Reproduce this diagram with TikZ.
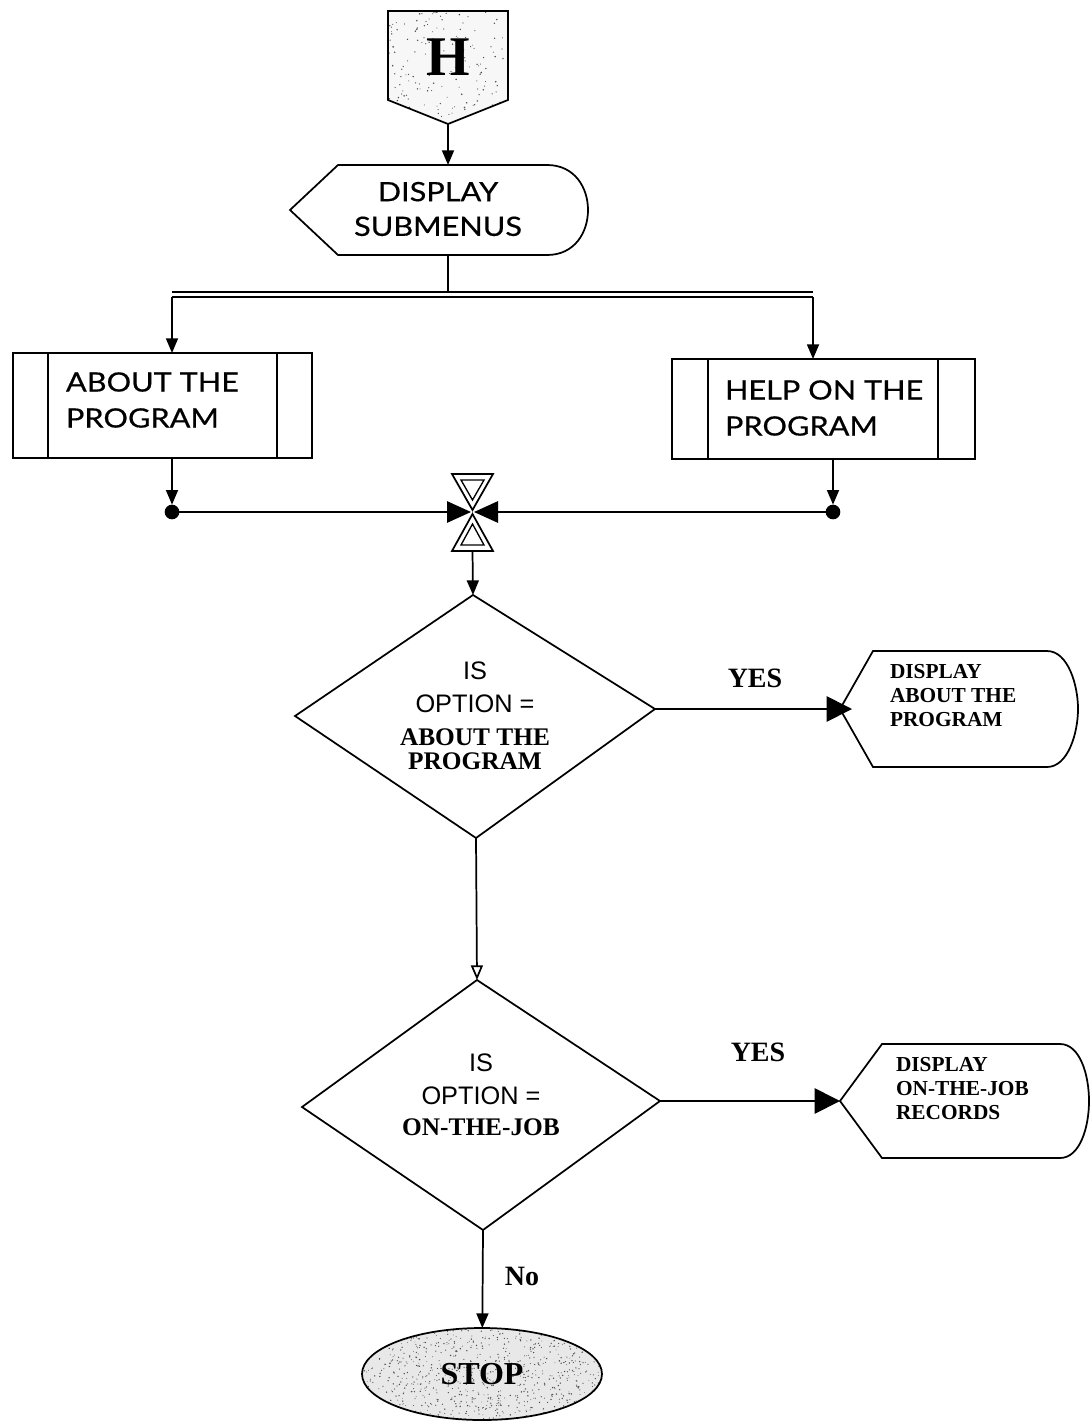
\documentclass[tikz,border=0pt]{standalone}
\usepackage{fontspec}
\setmainfont{Liberation Serif}
\newfontfamily\sansf{Liberation Sans}
\newfontfamily\menuf[FakeStretch=1.15,FakeBold=0.5]{Lato}
\usetikzlibrary{arrows.meta,shapes.geometric}

\begin{document}
\begin{tikzpicture}[x=0.75pt,y=-0.75pt,
  every node/.style={inner sep=0pt, outer sep=0pt},
  outline/.style={line width=1.3pt, line join=miter},
  conn/.style={line width=1.3pt},
  tip/.style={-{Triangle[length=11pt,width=9pt]}},
  opentip/.style={-{Triangle[open,length=11pt,width=9pt]}},
  bigtip/.style={-{Triangle[length=19pt,width=19pt]}},
  mergetip/.style={-{Triangle[length=18pt,width=16pt]}},
  menutext/.style={font=\menuf\fontsize{20}{27}\selectfont, align=left, anchor=west},
  asktext/.style={font=\fontsize{19}{24.5}\selectfont, align=center},
  showtext/.style={font=\bfseries\fontsize{16}{18}\selectfont, align=left, anchor=west},
  answer/.style={font=\bfseries\fontsize{21}{21}\selectfont},
  dot/.style={circle, fill=black, minimum size=11pt},
  grain/.style={black!70}
]
\fill[white] (0,0) rectangle (1091,1423);
\useasboundingbox (0,0) rectangle (1091,1423);

% ---------- off-page connector H ----------
\coordinate (hB) at (448,124);
\fill[gray!6] (388,11) -- (508,11) -- (508,100) -- (hB) -- (388,100) -- cycle;
\pgfmathsetseed{11}
\begin{scope}
  \clip (388,11) -- (508,11) -- (508,100) -- (hB) -- (388,100) -- cycle;
  \foreach \i in {1,...,170}
    \fill[grain] ({448+60*rand},{62+55*rand}) circle [radius={0.35pt+0.3pt*rnd}];
\end{scope}
\draw[outline] (388,11) -- (508,11) -- (508,100) -- (hB) -- (388,100) -- cycle;
\node[font=\bfseries\fontsize{42}{42}\selectfont] (H) at (448,57) {H};

% ---------- display submenus ----------
\coordinate (dsT) at (448,165);
\coordinate (dsB) at (448,255);
\draw[outline] (290,210) -- (338,165) -- (547,165)
  .. controls (575,165) and (588,188) .. (588,210)
  .. controls (588,232) and (575,255) .. (547,255) -- (338,255) -- cycle;
\node[font=\menuf\fontsize{20}{26}\selectfont, align=center] (ds) at (438,209) {DISPLAY\\SUBMENUS};
\draw[conn, tip] (hB) -- (dsT);

% ---------- split bus ----------
\coordinate (busTop) at (448,292);
\coordinate (busL) at (172,297);
\coordinate (busR) at (813,297);
\draw[conn] (dsB) -- (busTop);
\draw[line width=1pt] (172,292) -- (813,292);
\draw[line width=1pt] (busL) -- (busR);

% ---------- predefined processes ----------
\coordinate (aboutT) at (172,353);
\coordinate (aboutB) at (172,458);
\draw[outline] (13,353) rectangle (312,458);
\draw[outline] (48,353) -- (48,458);
\draw[outline] (277,353) -- (277,458);
\node[menutext] (about) at (66,400) {ABOUT THE\\PROGRAM};

\coordinate (helpT) at (813,359);
\coordinate (helpB) at (833,459);
\draw[outline] (672,359) rectangle (975,459);
\draw[outline] (708,359) -- (708,459);
\draw[outline] (938,359) -- (938,459);
\node[menutext] (help) at (725,408) {HELP ON THE\\PROGRAM};

\draw[conn, tip] (busL) -- (aboutT);
\draw[conn, tip] (busR) -- (helpT);

% ---------- join ----------
\node[dot] (dotL) at (172,512) {};
\node[dot] (dotR) at (833,512) {};
\draw[conn, tip] (aboutB) -- (dotL);
\draw[conn, tip] (helpB) -- (dotR);

\coordinate (mgL) at (471,512);
\coordinate (mgR) at (474,512);
\coordinate (mgB) at (472.5,551);
\draw[outline] (452,474) -- (493,474) -- (472.5,510) -- cycle;
\draw[line width=1pt] (461,480) -- (484,480) -- (472.5,500) -- cycle;
\draw[outline] (472.5,514) -- (493,551) -- (452,551) -- cycle;
\draw[line width=1pt] (472.5,524) -- (484,545) -- (461,545) -- cycle;
\draw[conn, mergetip] (dotL) -- (mgL);
\draw[conn, mergetip] (dotR) -- (mgR);

% ---------- decision 1 ----------
\coordinate (d1T) at (473,595);
\coordinate (d1R) at (655,709);
\coordinate (d1B) at (476,838);
\coordinate (d1L) at (295,716);
\draw[outline] (d1T) -- (d1R) -- (d1B) -- (d1L) -- cycle;
\node[asktext] (d1) at (475,716)
  {{\sansf IS}\\{\sansf OPTION =}\\{\bfseries ABOUT THE}\\[-6pt]{\bfseries PROGRAM}};
\draw[conn, tip] (mgB) -- (d1T);

% ---------- display: about the program ----------
\coordinate (sh1In) at (852,709);
\draw[outline] (840,709) -- (873,651) -- (1047,651)
  .. controls (1068,651) and (1078,685) .. (1078,709)
  .. controls (1078,733) and (1068,767) .. (1047,767) -- (873,767) -- cycle;
\node[showtext] (sh1) at (890,696) {DISPLAY\\ABOUT THE\\PROGRAM};
\draw[conn, bigtip] (d1R) -- (sh1In);
\node[answer] (yes1) at (755,678) {YES};

% ---------- decision 2 ----------
\coordinate (d2T) at (477,980);
\coordinate (d2R) at (660,1101);
\coordinate (d2B) at (483,1230);
\coordinate (d2L) at (302,1107);
\draw[outline] (d2T) -- (d2R) -- (d2B) -- (d2L) -- cycle;
\node[asktext] (d2) at (481,1095)
  {{\sansf IS}\\{\sansf OPTION =}\\[-1pt]{\bfseries ON-THE-JOB}};
\draw[conn, opentip] (d1B) -- (d2T);

% ---------- display: on-the-job records ----------
\coordinate (sh2In) at (840,1101);
\draw[outline] (840,1101) -- (882,1044) -- (1060,1044)
  .. controls (1080,1044) and (1089,1075) .. (1089,1101)
  .. controls (1089,1127) and (1080,1158) .. (1060,1158) -- (882,1158) -- cycle;
\node[showtext] (sh2) at (896,1089) {DISPLAY\\ON-THE-JOB\\RECORDS};
\draw[conn, bigtip] (d2R) -- (sh2In);
\node[answer] (yes2) at (758,1052) {YES};

% ---------- stop ----------
\node[ellipse, fill=gray!18, minimum width=180pt, minimum height=69pt] (stop) at (482,1374) {};
\pgfmathsetseed{5}
\begin{scope}
  \clip (stop.center) ellipse [x radius=90pt, y radius=34.5pt];
  \foreach \i in {1,...,900}
    \fill[grain] ({482+120*rand},{1374+46*rand}) circle [radius={0.3pt+0.3pt*rnd}];
\end{scope}
\draw[outline] (stop.center) ellipse [x radius=90pt, y radius=34.5pt];
\node[font=\bfseries\fontsize{24}{24}\selectfont] (stopLbl) at (stop.center) {STOP};
\draw[conn, tip] (d2B) -- (stop);
\node[answer] (no) at (522,1276) {No};
\end{tikzpicture}
\end{document}
